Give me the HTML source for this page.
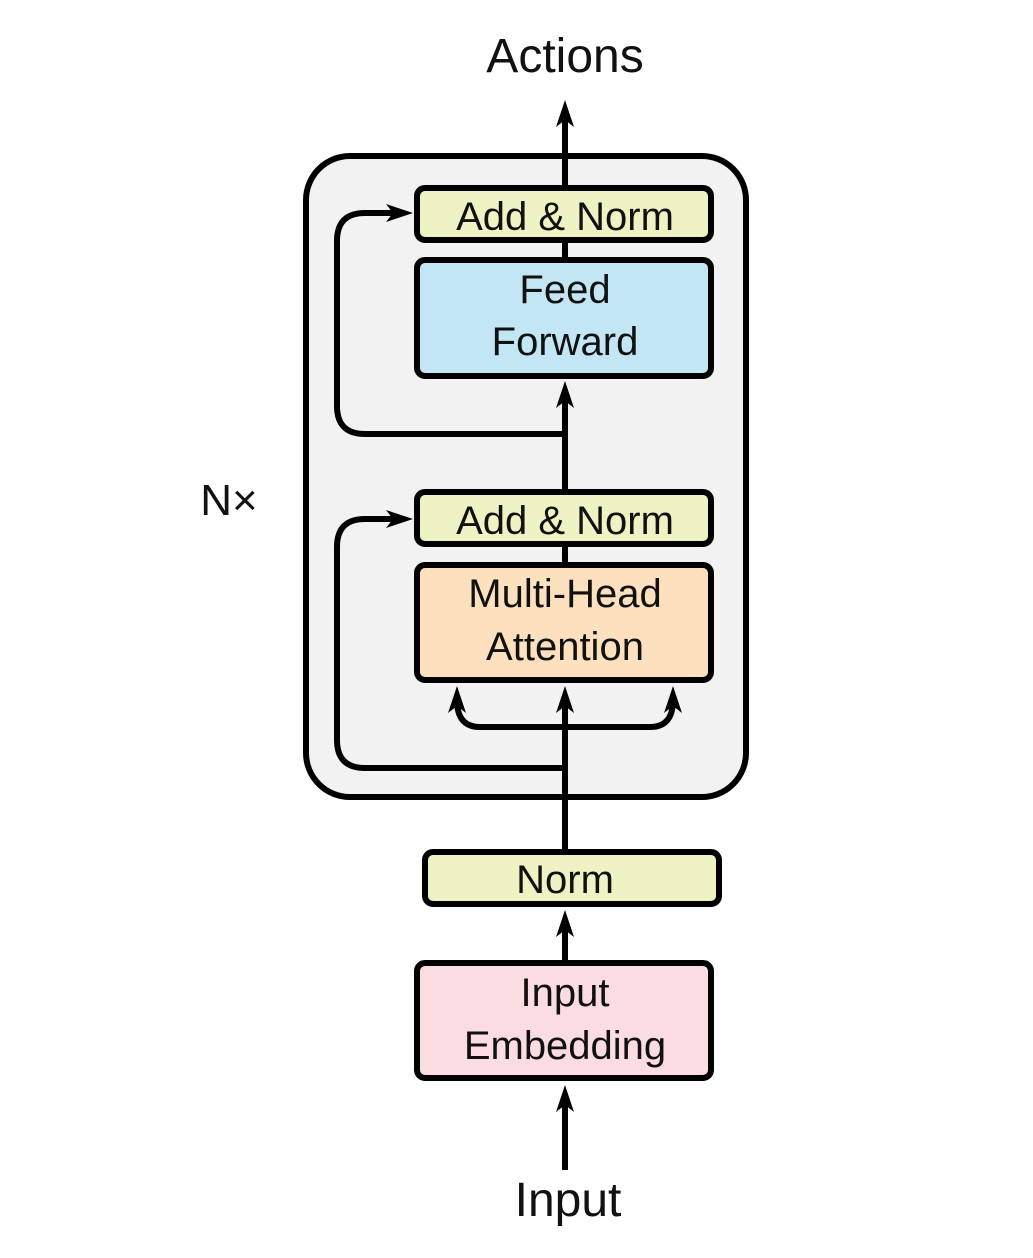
<!DOCTYPE html>
<html><head><style>
body{margin:0;background:#fff;}
svg text{font-family:"Liberation Sans",sans-serif;fill:#111;}
</style></head><body>
<svg width="1033" height="1253" viewBox="0 0 1033 1253" xmlns="http://www.w3.org/2000/svg">
<defs>
<marker id="a" markerWidth="10" markerHeight="10" refX="7" refY="5" orient="auto" markerUnits="userSpaceOnUse" viewBox="0 0 10 10">
</marker>
</defs>
<rect x="306" y="156" width="440" height="641" rx="44" fill="#f2f2f2" stroke="#000" stroke-width="6"/>
<g stroke="#000" stroke-width="6" fill="none">
<line x1="565" y1="115" x2="565" y2="188"/>
<line x1="565" y1="240" x2="565" y2="260"/>
<line x1="565" y1="395" x2="565" y2="492"/>
<line x1="565" y1="545" x2="565" y2="565"/>
<line x1="565" y1="700" x2="565" y2="852"/>
<line x1="565" y1="920" x2="565" y2="962"/>
<line x1="565" y1="1100" x2="565" y2="1170"/>
<path d="M565 434 H365 Q337 434 337 406 V241 Q337 213 365 213 H400"/>
<path d="M565 768 H365 Q337 768 337 740 V547 Q337 519 365 519 H400"/>
<path d="M565 727 H480 Q457 727 457 700 V695"/>
<path d="M565 727 H650 Q673 727 673 700 V695"/>
</g>
<g fill="#000">
<polygon points="565,100 556,127 565,120 574,127"/>
<polygon points="565,381 556,408 565,401 574,408"/>
<polygon points="565,686 556,713 565,706 574,713"/>
<polygon points="565,910 556,937 565,930 574,937"/>
<polygon points="565,1085 556,1112 565,1105 574,1112"/>
<polygon points="457,686 448,713 457,706 466,713"/>
<polygon points="673,686 664,713 673,706 682,713"/>
<polygon points="413,213 386,204 393,213 386,222"/>
<polygon points="413,519 386,510 393,519 386,528"/>
</g>
<g stroke="#000" stroke-width="6">
<rect x="417" y="188" width="294" height="52" rx="8" fill="#eff3c4"/>
<rect x="417" y="260" width="294" height="116" rx="8" fill="#c3e6f5"/>
<rect x="417" y="492" width="294" height="52" rx="8" fill="#eff3c4"/>
<rect x="417" y="565" width="294" height="115" rx="8" fill="#fde1bf"/>
<rect x="425" y="852" width="294" height="52" rx="8" fill="#eff3c4"/>
<rect x="417" y="963" width="294" height="115" rx="8" fill="#fbdde1"/>
</g>
<g font-size="40" text-anchor="middle">
<text x="565" y="230">Add &amp; Norm</text>
<text x="565" y="303">Feed</text>
<text x="565" y="355">Forward</text>
<text x="565" y="534">Add &amp; Norm</text>
<text x="565" y="607">Multi-Head</text>
<text x="565" y="660">Attention</text>
<text x="565" y="893">Norm</text>
<text x="565" y="1006">Input</text>
<text x="565" y="1059">Embedding</text>
<text x="565" y="72" font-size="48">Actions</text>
<text x="568" y="1216" font-size="48">Input</text>
<text x="229" y="515" font-size="44">N×</text>
</g>
</svg>
</body></html>
